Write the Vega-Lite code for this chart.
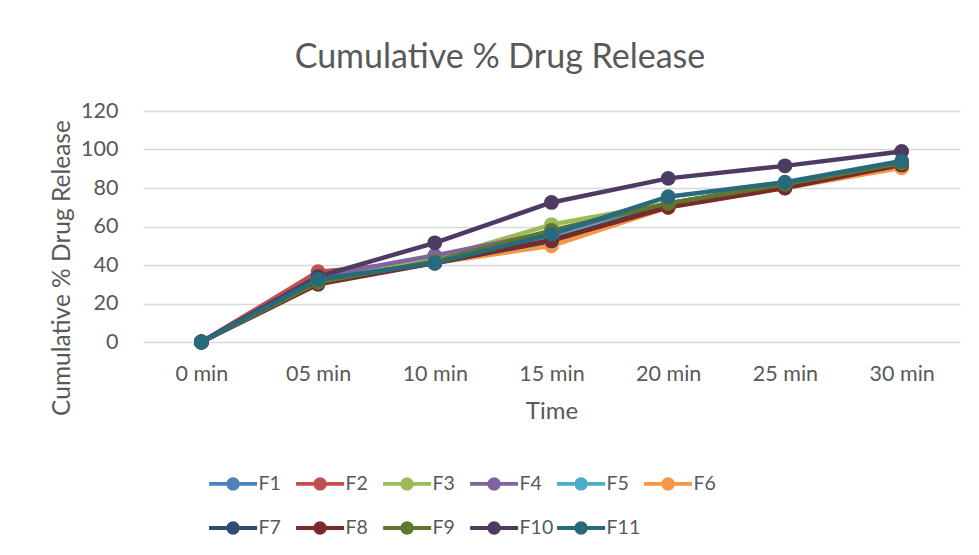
{
  "$schema": "https://vega.github.io/schema/vega-lite/v6.json",
  "width": 817,
  "height": 231,
  "autosize": {"type": "none"},
  "padding": {"left": 143, "top": 111, "right": 19, "bottom": 213},
  "background": "white",
  "title": {
    "text": "Cumulative % Drug Release",
    "font": "Lato",
    "fontSize": 34,
    "fontWeight": "normal",
    "color": "#595959",
    "anchor": "middle",
    "dx": -51.5,
    "dy": 6,
    "offset": 4,
    "baseline": "alphabetic"
  },
  "data": {
    "values": [
      {"time": "0 min", "formulation": "F1", "release": 0},
      {"time": "05 min", "formulation": "F1", "release": 32},
      {"time": "10 min", "formulation": "F1", "release": 42},
      {"time": "15 min", "formulation": "F1", "release": 53},
      {"time": "20 min", "formulation": "F1", "release": 71},
      {"time": "25 min", "formulation": "F1", "release": 81},
      {"time": "30 min", "formulation": "F1", "release": 92},
      {"time": "0 min", "formulation": "F2", "release": 0},
      {"time": "05 min", "formulation": "F2", "release": 36.5},
      {"time": "10 min", "formulation": "F2", "release": 42},
      {"time": "15 min", "formulation": "F2", "release": 55},
      {"time": "20 min", "formulation": "F2", "release": 72},
      {"time": "25 min", "formulation": "F2", "release": 82},
      {"time": "30 min", "formulation": "F2", "release": 93},
      {"time": "0 min", "formulation": "F3", "release": 0},
      {"time": "05 min", "formulation": "F3", "release": 33},
      {"time": "10 min", "formulation": "F3", "release": 43},
      {"time": "15 min", "formulation": "F3", "release": 61},
      {"time": "20 min", "formulation": "F3", "release": 72},
      {"time": "25 min", "formulation": "F3", "release": 82},
      {"time": "30 min", "formulation": "F3", "release": 93},
      {"time": "0 min", "formulation": "F4", "release": 0},
      {"time": "05 min", "formulation": "F4", "release": 34},
      {"time": "10 min", "formulation": "F4", "release": 45},
      {"time": "15 min", "formulation": "F4", "release": 57},
      {"time": "20 min", "formulation": "F4", "release": 72},
      {"time": "25 min", "formulation": "F4", "release": 82},
      {"time": "30 min", "formulation": "F4", "release": 93},
      {"time": "0 min", "formulation": "F5", "release": 0},
      {"time": "05 min", "formulation": "F5", "release": 32},
      {"time": "10 min", "formulation": "F5", "release": 41},
      {"time": "15 min", "formulation": "F5", "release": 54},
      {"time": "20 min", "formulation": "F5", "release": 71},
      {"time": "25 min", "formulation": "F5", "release": 81},
      {"time": "30 min", "formulation": "F5", "release": 91},
      {"time": "0 min", "formulation": "F6", "release": 0},
      {"time": "05 min", "formulation": "F6", "release": 31},
      {"time": "10 min", "formulation": "F6", "release": 41},
      {"time": "15 min", "formulation": "F6", "release": 50},
      {"time": "20 min", "formulation": "F6", "release": 70},
      {"time": "25 min", "formulation": "F6", "release": 80},
      {"time": "30 min", "formulation": "F6", "release": 90.5},
      {"time": "0 min", "formulation": "F7", "release": 0},
      {"time": "05 min", "formulation": "F7", "release": 32},
      {"time": "10 min", "formulation": "F7", "release": 41},
      {"time": "15 min", "formulation": "F7", "release": 52.5},
      {"time": "20 min", "formulation": "F7", "release": 71},
      {"time": "25 min", "formulation": "F7", "release": 81},
      {"time": "30 min", "formulation": "F7", "release": 92},
      {"time": "0 min", "formulation": "F8", "release": 0},
      {"time": "05 min", "formulation": "F8", "release": 30},
      {"time": "10 min", "formulation": "F8", "release": 41},
      {"time": "15 min", "formulation": "F8", "release": 53},
      {"time": "20 min", "formulation": "F8", "release": 70},
      {"time": "25 min", "formulation": "F8", "release": 80},
      {"time": "30 min", "formulation": "F8", "release": 92},
      {"time": "0 min", "formulation": "F9", "release": 0},
      {"time": "05 min", "formulation": "F9", "release": 31},
      {"time": "10 min", "formulation": "F9", "release": 42},
      {"time": "15 min", "formulation": "F9", "release": 58},
      {"time": "20 min", "formulation": "F9", "release": 72},
      {"time": "25 min", "formulation": "F9", "release": 82},
      {"time": "30 min", "formulation": "F9", "release": 93},
      {"time": "0 min", "formulation": "F10", "release": 0},
      {"time": "05 min", "formulation": "F10", "release": 34},
      {"time": "10 min", "formulation": "F10", "release": 51.5},
      {"time": "15 min", "formulation": "F10", "release": 72.5},
      {"time": "20 min", "formulation": "F10", "release": 85},
      {"time": "25 min", "formulation": "F10", "release": 91.5},
      {"time": "30 min", "formulation": "F10", "release": 99},
      {"time": "0 min", "formulation": "F11", "release": 0},
      {"time": "05 min", "formulation": "F11", "release": 32.5},
      {"time": "10 min", "formulation": "F11", "release": 41},
      {"time": "15 min", "formulation": "F11", "release": 56},
      {"time": "20 min", "formulation": "F11", "release": 75.5},
      {"time": "25 min", "formulation": "F11", "release": 83},
      {"time": "30 min", "formulation": "F11", "release": 94}
    ]
  },
  "mark": {
    "type": "line",
    "strokeWidth": 4.5,
    "strokeJoin": "round",
    "strokeCap": "round",
    "point": {"filled": true, "size": 220, "strokeWidth": 0, "opacity": 1}
  },
  "encoding": {
    "x": {
      "field": "time",
      "type": "ordinal",
      "sort": ["0 min", "05 min", "10 min", "15 min", "20 min", "25 min", "30 min"],
      "scale": {"type": "point", "padding": 0.5},
      "axis": {
        "title": "Time",
        "labelAngle": 0,
        "grid": false,
        "domain": false,
        "ticks": false,
        "tickSize": 0,
        "labelPadding": 21,
        "labelFont": "Lato",
        "labelFontSize": 21.5,
        "labelColor": "#595959",
        "titleFont": "Lato",
        "titleFontSize": 24,
        "titleFontWeight": "normal",
        "titleColor": "#595959",
        "titlePadding": 15
      }
    },
    "y": {
      "field": "release",
      "type": "quantitative",
      "scale": {"domain": [0, 120], "nice": false, "zero": true},
      "axis": {
        "title": "Cumulative % Drug Release",
        "values": [0, 20, 40, 60, 80, 100, 120],
        "grid": true,
        "gridColor": "#d9d9d9",
        "gridWidth": 1.5,
        "domain": false,
        "ticks": false,
        "tickSize": 0,
        "labelPadding": 25,
        "labelFont": "Lato",
        "labelFontSize": 21.5,
        "labelColor": "#595959",
        "titleFont": "Lato",
        "titleFontSize": 24.5,
        "titleFontWeight": "normal",
        "titleColor": "#595959",
        "titleAngle": -90,
        "titleAlign": "center",
        "titleBaseline": "middle",
        "titleX": -81,
        "titleY": 156.5
      }
    },
    "color": {
      "field": "formulation",
      "type": "nominal",
      "scale": {
        "domain": ["F1", "F2", "F3", "F4", "F5", "F6", "F7", "F8", "F9", "F10", "F11"],
        "range": ["#4F81BD", "#C0504D", "#9BBB59", "#8064A2", "#4BACC6", "#F79646", "#2C4D75", "#772C2A", "#5F7530", "#4D3B62", "#276A7C"]
      },
      "legend": {
        "title": null,
        "orient": "none",
        "legendX": 63,
        "legendY": 362.75,
        "direction": "horizontal",
        "columns": 6,
        "gridAlign": "all",
        "columnPadding": 0,
        "rowPadding": 23.5,
        "padding": 0,
        "symbolType": "M-3.61,-0.3H3.61V0.3H-3.61Z M0,-1A1,1 0 1,1 0,1A1,1 0 1,1 0,-1Z",
        "symbolSize": 177,
        "symbolOffset": 17.35,
        "symbolStrokeWidth": 0,
        "labelOffset": 15.7,
        "labelFont": "Lato",
        "labelFontSize": 19.5,
        "labelColor": "#595959",
        "encode": {
          "symbols": {
            "update": {
              "fill": {"scale": "color", "field": "value"},
              "stroke": {"value": "transparent"},
              "strokeWidth": {"value": 0},
              "opacity": {"value": 1}
            }
          }
        }
      }
    }
  },
  "config": {
    "view": {"stroke": null},
    "font": "Lato"
  }
}
